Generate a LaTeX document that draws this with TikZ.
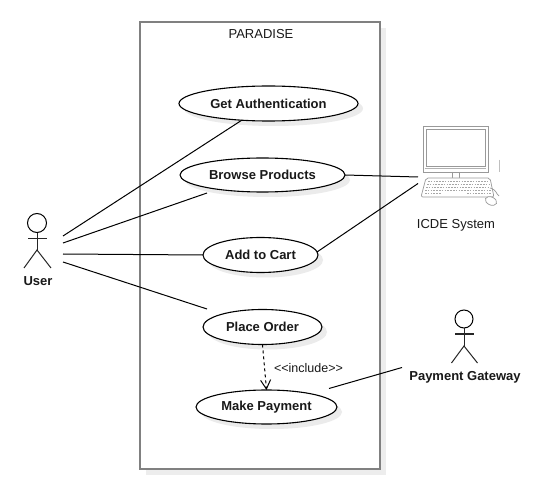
\documentclass[tikz,border=0pt]{standalone}
\usepackage{fontspec}
\setmainfont{Liberation Sans}
\usetikzlibrary{shapes.geometric,arrows.meta,shadows}
\tikzset{
  usecase/.style={ellipse,draw=black,line width=1.1pt,fill=white,inner sep=0pt,outer sep=0pt,
    font=\fontsize{13}{15}\selectfont\bfseries,text=black!90,
    general shadow={shadow xshift=5pt,shadow yshift=-5pt,fill=black!8}},
  link/.style={draw=black,line width=1pt},
  actorline/.style={draw=black!85,line width=1pt},
  boundary/.style={draw=black!50,line width=1.8pt,fill=white,
    general shadow={shadow xshift=6pt,shadow yshift=-6pt,fill=black!7}},
  lbl/.style={inner sep=0pt,font=\fontsize{13}{15}\selectfont,text=black!90},
  blbl/.style={inner sep=0pt,font=\fontsize{13}{15}\selectfont\bfseries,text=black!90},
  pc/.style={draw=black!40,line width=.7pt},
  key/.style={draw=black!35,line width=.5pt,dash pattern=on 1.6pt off 1.2pt}
}
\begin{document}
\begin{tikzpicture}[x=1pt,y=-1pt]
\useasboundingbox (0,0) rectangle (539,492);
\fill[white] (0,0) rectangle (539,492);
% system boundary
\node[boundary,minimum width=240pt,minimum height=447pt,inner sep=0pt] (sys) at (260,245.5) {};
\node[lbl] (title) at (261,34) {PARADISE};
% use cases
\node[usecase,minimum width=179pt,minimum height=35pt] (auth) at (268.5,103.5) {\raisebox{-.8pt}{Get Authentication}};
\node[usecase,minimum width=165pt,minimum height=34pt] (browse) at (262.5,175) {\raisebox{-.8pt}{Browse Products}};
\node[usecase,minimum width=115pt,minimum height=35pt] (cart) at (260.5,255) {\raisebox{-.8pt}{Add to Cart}};
\node[usecase,minimum width=119pt,minimum height=35pt] (place) at (262.5,327) {\raisebox{-.8pt}{Place Order}};
\node[usecase,minimum width=141pt,minimum height=34pt] (pay) at (266.5,407) {\raisebox{-.8pt}{Make Payment}};
% user actor
\node[draw=black,line width=1pt,circle,minimum size=19pt,inner sep=0pt] (userhead) at (37,223) {};
\coordinate (userhip) at (37,250);
\coordinate (userarmL) at (28,239);
\coordinate (userarmR) at (47,239);
\coordinate (userfootL) at (24,268);
\coordinate (userfootR) at (51,268);
\draw[actorline] (userhead) -- (userhip);
\draw[actorline] (userarmL) -- (userarmR);
\draw[actorline] (userfootL) -- (userhip) -- (userfootR);
\node[blbl] (userlbl) at (38,281) {User};
% gateway actor
\node[draw=black,line width=1pt,circle,minimum size=18pt,inner sep=0pt] (gwhead) at (464,319) {};
\coordinate (gwhip) at (464,346);
\coordinate (gwarmL) at (455,334);
\coordinate (gwarmR) at (474,334);
\coordinate (gwfootL) at (451.5,363);
\coordinate (gwfootR) at (477.5,363);
\draw[actorline] (gwhead) -- (gwhip);
\draw[actorline] (gwarmL) -- (gwarmR);
\draw[actorline] (gwfootL) -- (gwhip) -- (gwfootR);
\node[blbl] (gwlbl) at (465,377.5) {Payment Gateway};
% computer
\draw[pc,fill=white] (423,126) rectangle (488,172);
\draw[pc] (426,129) rectangle (485,166);
\draw[pc,draw=black!30] (424.5,168.5) -- (486,168.5);
\draw[pc] (452,172) -- (452,178) (459,172) -- (459,178);
\draw[pc,rounded corners=2pt,fill=white] (426,178) -- (490,178) -- (494,197) -- (421,197) -- cycle;
\draw[key] (428,181) -- (489,181);
\draw[key] (427,184) -- (490,184);
\draw[key] (426,187) -- (490,187);
\draw[key] (425,190) -- (491,190);
\draw[key] (425,193) -- (441,193) (467,193) -- (491,193);
\draw[pc] (490,188) .. controls (497,190) and (496,194) .. (499,196);
\draw[pc,fill=white,rotate around={-25:(491,201)}] (491,201) ellipse (6pt and 4pt);
\draw[draw=black!25,line width=.8pt] (499,160) -- (499,172);
\coordinate (pcL1) at (418,177);
\coordinate (pcL2) at (418,183.5);
\node[lbl] (pclbl) at (456,225) {ICDE System};
% user links
\coordinate (u1) at (63,236);
\coordinate (u2) at (63,243);
\coordinate (u3) at (63,254);
\coordinate (u4) at (63,262);
\coordinate (browseIn) at (207,193);
\coordinate (placeIn) at (207,309);
\coordinate (cartOut) at (317,252);
\draw[link] (u1) -- (auth.212);
\draw[link] (u2) -- (browseIn);
\draw[link] (u3) -- (cart.west);
\draw[link] (u4) -- (placeIn);
% system links
\draw[link] (browse.east) -- (pcL1);
\draw[link] (cartOut) -- (pcL2);
\coordinate (gwL) at (402,367.5);
\coordinate (payR) at (329,388.5);
\draw[link] (payR) -- (gwL);
% include
\draw[link,dash pattern=on 3pt off 3pt,-{Straight Barb[length=9pt,width=10pt,line width=1pt]}] (place.south) -- (pay.north);
\node[lbl,font=\fontsize{12.5}{14}\selectfont] (inc) at (308.5,368) {{<}{<}include{>}{>}};
\end{tikzpicture}
\end{document}
